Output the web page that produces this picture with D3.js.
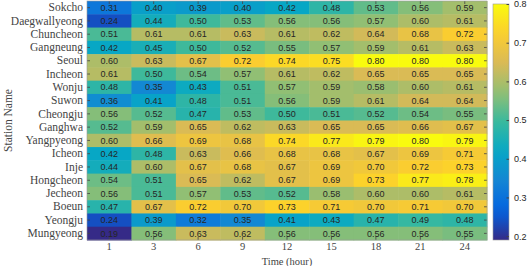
<!DOCTYPE html>
<html>
<head>
<meta charset="utf-8">
<script src="https://cdn.jsdelivr.net/npm/d3@7"></script>
<style>
  body { margin: 0; background: #fff; }
</style>
</head>
<body>
<div id="chart"></div>
<script>
// station names, top to bottom
const stations = ["Sokcho", "Daegwallyeong", "Chuncheon", "Gangneung", "Seoul", "Incheon",
  "Wonju", "Suwon", "Cheongju", "Ganghwa", "Yangpyeong", "Icheon", "Inje", "Hongcheon",
  "Jecheon", "Boeun", "Yeongju", "Mungyeong"]

const hours = [1, 3, 6, 9, 12, 15, 18, 21, 24]

// one row per station, one value per hour
const values = [
  [0.31, 0.40, 0.39, 0.40, 0.42, 0.48, 0.53, 0.56, 0.59],
  [0.24, 0.44, 0.50, 0.53, 0.56, 0.56, 0.57, 0.60, 0.61],
  [0.51, 0.61, 0.61, 0.63, 0.61, 0.62, 0.64, 0.68, 0.72],
  [0.42, 0.45, 0.50, 0.52, 0.55, 0.57, 0.59, 0.61, 0.63],
  [0.60, 0.63, 0.67, 0.72, 0.74, 0.75, 0.80, 0.80, 0.80],
  [0.61, 0.50, 0.54, 0.57, 0.61, 0.62, 0.65, 0.65, 0.65],
  [0.48, 0.35, 0.43, 0.51, 0.57, 0.59, 0.58, 0.60, 0.61],
  [0.36, 0.41, 0.48, 0.51, 0.56, 0.59, 0.61, 0.64, 0.64],
  [0.56, 0.52, 0.47, 0.53, 0.50, 0.51, 0.52, 0.54, 0.55],
  [0.52, 0.59, 0.65, 0.62, 0.63, 0.65, 0.65, 0.66, 0.67],
  [0.60, 0.66, 0.69, 0.68, 0.74, 0.77, 0.79, 0.80, 0.79],
  [0.42, 0.48, 0.63, 0.66, 0.68, 0.68, 0.67, 0.69, 0.71],
  [0.44, 0.60, 0.67, 0.68, 0.67, 0.69, 0.70, 0.72, 0.73],
  [0.54, 0.51, 0.65, 0.62, 0.67, 0.69, 0.73, 0.77, 0.78],
  [0.56, 0.51, 0.57, 0.53, 0.52, 0.58, 0.60, 0.60, 0.61],
  [0.47, 0.67, 0.72, 0.70, 0.73, 0.71, 0.70, 0.71, 0.70],
  [0.24, 0.39, 0.32, 0.35, 0.41, 0.43, 0.47, 0.49, 0.48],
  [0.19, 0.56, 0.63, 0.62, 0.56, 0.56, 0.56, 0.56, 0.55]
]

const colorTicks = [0.2, 0.3, 0.4, 0.5, 0.6, 0.7, 0.8]

// parula stops
const parula = ["#352a87", "#0363e1", "#1485d4", "#06a7c6", "#38b99e",
  "#92bf73", "#d9ba56", "#fcce2e", "#f9fb0e"]

const serif = "'Liberation Serif', 'Times New Roman', 'DejaVu Serif', serif"
const sans = "'Liberation Sans', Arial, sans-serif"
const ink = "#262626"
const axisInk = "#444"

const width = 532, height = 266
const plot = { left: 87, right: 487, top: 1, bottom: 240 }
const bar = { left: 493, right: 509, top: 4, bottom: 240 }

const svg = d3.select("#chart").append("svg")
  .attr("width", width)
  .attr("height", height)
  .attr("viewBox", [0, 0, width, height])

const flat = values.flat()
const cmin = d3.min(flat), cmax = d3.max(flat)
const color = d3.scaleLinear()
  .domain(parula.map((c, i) => cmin + (cmax - cmin) * i / (parula.length - 1)))
  .range(parula)
  .interpolate(d3.interpolateRgb)
  .clamp(true)

const x = d3.scaleBand().domain(hours).range([plot.left, plot.right])
const y = d3.scaleBand().domain(stations).range([plot.top, plot.bottom])

const cells = []
stations.forEach((s, i) => hours.forEach((h, j) => cells.push({ s, h, v: values[i][j] })))

svg.append("g").classed("cells", true)
  .selectAll("rect")
  .data(cells)
  .join("rect")
  .attr("x", d => x(d.h))
  .attr("y", d => y(d.s))
  .attr("width", x.bandwidth() + 0.5)
  .attr("height", y.bandwidth() + 0.5)
  .attr("fill", d => color(d.v))

svg.append("g").classed("labels", true)
  .selectAll("text")
  .data(cells)
  .join("text")
  .attr("x", d => x(d.h) + x.bandwidth() / 2)
  .attr("y", d => y(d.s) + y.bandwidth() / 2)
  .attr("dy", "0.35em")
  .attr("text-anchor", "middle")
  .style("font-family", sans)
  .style("font-size", "9px")
  .style("fill", ink)
  .text(d => d3.format(".2f")(d.v))

// axes: labels outside, small ticks inside on all four sides
const tickColor = "#444"
const axisL = svg.append("g").attr("transform", `translate(${plot.left},0)`)
  .call(d3.axisLeft(y).tickSize(0).tickPadding(4))
axisL.select(".domain").remove()
axisL.selectAll("text")
  .style("font-family", serif).style("font-size", "11.5px").style("fill", axisInk)

const axisB = svg.append("g").attr("transform", `translate(0,${plot.bottom})`)
  .call(d3.axisBottom(x).tickSize(0).tickPadding(3))
axisB.select(".domain").remove()
axisB.selectAll("text")
  .style("font-family", serif).style("font-size", "10.5px").style("fill", axisInk)

const ticks = svg.append("g").attr("stroke", tickColor).attr("stroke-width", 0.8)
stations.forEach(s => {
  const cy = y(s) + y.bandwidth() / 2
  ticks.append("line").attr("x1", plot.left).attr("x2", plot.left + 3).attr("y1", cy).attr("y2", cy)
  ticks.append("line").attr("x1", plot.right - 3).attr("x2", plot.right).attr("y1", cy).attr("y2", cy)
})
hours.forEach(h => {
  const cx = x(h) + x.bandwidth() / 2
  ticks.append("line").attr("x1", cx).attr("x2", cx).attr("y1", plot.top).attr("y2", plot.top + 3)
  ticks.append("line").attr("x1", cx).attr("x2", cx).attr("y1", plot.bottom - 3).attr("y2", plot.bottom)
})

svg.append("rect")
  .attr("x", plot.left).attr("y", plot.top)
  .attr("width", plot.right - plot.left).attr("height", plot.bottom - plot.top)
  .attr("fill", "none").attr("stroke", "#999").attr("stroke-width", 0.6)

svg.append("text")
  .attr("x", (plot.left + plot.right) / 2).attr("y", 265)
  .attr("text-anchor", "middle")
  .style("font-family", serif).style("font-size", "10.5px").style("fill", axisInk)
  .text("Time (hour)")

svg.append("text")
  .attr("transform", `translate(12,${(plot.top + plot.bottom) / 2}) rotate(-90)`)
  .attr("text-anchor", "middle")
  .style("font-family", serif).style("font-size", "11.5px").style("fill", axisInk)
  .text("Station Name")

// colorbar
const cy = d3.scaleLinear().domain([cmin, cmax]).range([bar.bottom, bar.top])
const defs = svg.append("defs")
const grad = defs.append("linearGradient").attr("id", "cbar")
  .attr("x1", 0).attr("y1", 1).attr("x2", 0).attr("y2", 0)
d3.range(0, 1.0001, 0.05).forEach(t => {
  grad.append("stop").attr("offset", t).attr("stop-color", color(cmin + t * (cmax - cmin)))
})
svg.append("rect")
  .attr("x", bar.left).attr("y", bar.top)
  .attr("width", bar.right - bar.left).attr("height", bar.bottom - bar.top)
  .attr("fill", "url(#cbar)").attr("stroke", "#999").attr("stroke-width", 0.6)

const axisC = svg.append("g").attr("transform", `translate(${bar.right},0)`)
  .call(d3.axisRight(cy).tickValues(colorTicks).tickFormat(d3.format(".1f")).tickSize(-2.5).tickPadding(5))
axisC.select(".domain").remove()
axisC.selectAll("line").attr("stroke", tickColor)
axisC.selectAll("text")
  .style("font-family", sans).style("font-size", "9px").style("fill", ink)
</script>
</body>
</html>
